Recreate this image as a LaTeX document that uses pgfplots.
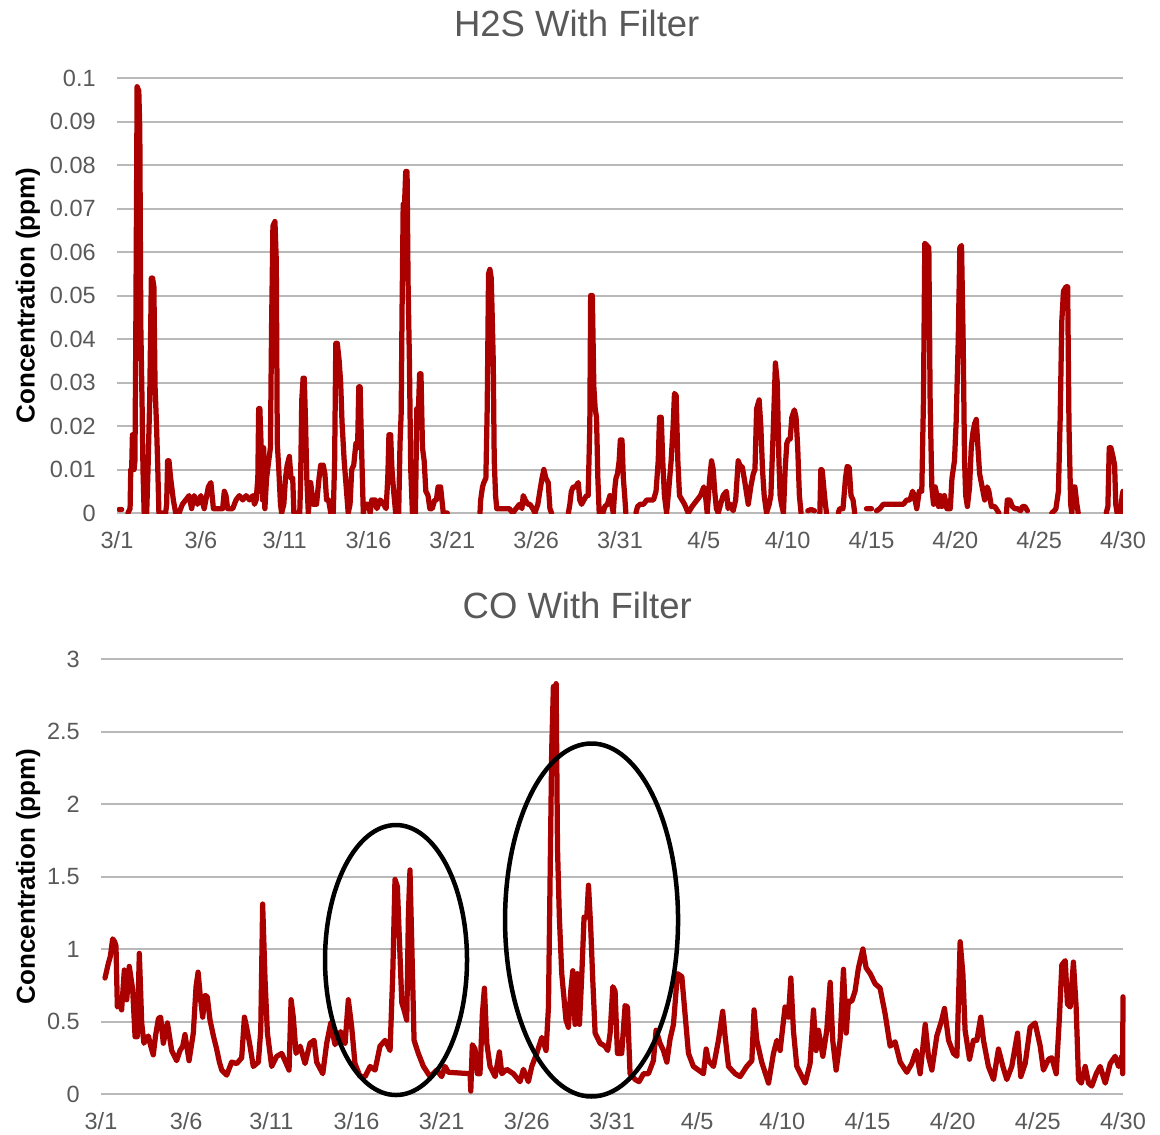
\documentclass[border=0pt]{standalone}
\usepackage{fontspec}
\setmainfont{Liberation Sans}
\usepackage{pgfplots}
\pgfplotsset{compat=1.18}
\definecolor{linered}{RGB}{170,0,0}
\definecolor{gridgray}{RGB}{185,185,185}
\definecolor{txtgray}{RGB}{89,89,89}
\pgfplotsset{
  chartstyle/.style={
    scale only axis,
    xmin=0, xmax=60,
    axis line style={draw=none},
    ymajorgrids,
    major grid style={gridgray, line width=0.8pt},
    major tick length=0pt,
    xtick={0,5,...,60},
    xticklabels={3/1,3/6,3/11,3/16,3/21,3/26,3/31,4/5,4/10,4/15,4/20,4/25,4/30},
    tick label style={font=\fontsize{9.4}{11}\selectfont, text=txtgray},
    xticklabel style={yshift=-4pt},
    yticklabel style={xshift=-5pt},
    title style={font=\fontsize{14.6}{17}\selectfont, text=txtgray, anchor=center},
    ylabel style={font=\fontsize{10.4}{12}\selectfont\bfseries, text=black, anchor=center},
    unbounded coords=jump,
  },
  dataline/.style={linered, line width=2.1pt, line join=round, line cap=round},
}
\begin{document}
\begin{tikzpicture}[x=1pt,y=1pt]
\useasboundingbox (0,0) rectangle (464,453.6);
% ---------------- H2S ----------------
\begin{axis}[chartstyle,
  at={(46.8pt,248.4pt)}, anchor=south west,
  width=402.4pt, height=174pt,
  ymin=0, ymax=0.1,
  ytick={0,0.01,0.02,0.03,0.04,0.05,0.06,0.07,0.08,0.09,0.1},
  yticklabels={0,0.01,0.02,0.03,0.04,0.05,0.06,0.07,0.08,0.09,0.1},
  title={H2S With Filter},
  title style={at={(axis description cs:0.457,1.09)}},
  ylabel={Concentration (ppm)},
  ylabel style={at={(axis description cs:-0.0885,0.5)}},
]
\addplot[dataline] coordinates {
(0.12,0.0008)(0.28,0.0008)(0.4,nan)
(0.65,0)(0.78,0.001)(0.82,0.010)(0.875,0.010)(0.92,0.018)(0.97,0.018)(1.02,0.010)(1.07,0.012)(1.12,0.040)(1.2,0.098)(1.3,0.097)(1.36,0.088)(1.42,0.043)(1.5,0.024)(1.55,0.010)(1.62,0)
(1.77,0)(1.85,0.010)(1.95,0.026)(2.05,0.054)(2.12,0.054)(2.2,0.052)(2.27,0.029)(2.35,0.021)(2.42,0.012)(2.5,0)
(2.90,0)(2.96,0.002)(3.02,0.012)(3.10,0.012)(3.20,0.008)(3.36,0.003)(3.50,0)(3.7,0)(3.9,0.002)(4.1,0.003)(4.3,0.004)(4.45,0.001)(4.6,0.004)(4.8,0.002)(5.0,0.004)(5.2,0.001)(5.45,0.006)(5.6,0.007)(5.75,0.001)(6.0,0.001)(6.3,0.001)(6.4,0.005)(6.5,0.004)(6.6,0.001)(6.9,0.001)(7.1,0.003)(7.3,0.004)(7.5,0.003)(7.7,0.004)(7.9,0.003)(8.1,0.004)(8.2,0.002)
(8.30,0.003)(8.40,0.008)(8.45,0.024)(8.52,0.024)(8.60,0.015)(8.68,0.003)(8.75,0.015)(8.82,0.001)(8.92,0.008)(9.05,0.012)(9.15,0.015)(9.22,0.043)(9.30,0.066)(9.42,0.067)(9.50,0.058)(9.56,0.016)(9.65,0.010)(9.75,0.002)(9.82,0)(9.95,0.002)(10.05,0.008)(10.15,0.011)(10.28,0.013)(10.38,0.008)(10.48,0.008)(10.55,0)(10.90,0)(10.95,0.007)(11.02,0.026)(11.10,0.031)(11.17,0.031)(11.25,0.020)(11.32,0.008)(11.41,0)(11.55,0.007)(11.70,0.002)(11.90,0.002)(12.05,0.008)(12.15,0.011)(12.30,0.011)(12.40,0.009)(12.50,0.003)(12.62,0.003)(12.75,0)(12.9,0)(12.98,0.012)(13.05,0.039)(13.14,0.039)(13.25,0.035)(13.34,0.030)(13.42,0.021)(13.55,0.012)(13.65,0.007)(13.79,0)(13.9,0.002)(14.0,0.010)(14.12,0.011)(14.25,0.016)(14.35,0.015)(14.42,0.029)(14.50,0.029)(14.58,0.016)(14.69,0)(14.8,0.002)(15.0,0.002)(15.1,0)(15.2,0.003)(15.4,0.003)(15.5,0.001)(15.7,0.003)(15.9,0.002)(16.05,0.001)(16.15,0.008)(16.22,0.018)(16.32,0.018)(16.40,0.010)(16.50,0.005)(16.62,0)(16.8,0)(16.88,0.016)(16.95,0.023)(17.0,0.046)(17.07,0.071)(17.15,0.071)(17.22,0.0785)(17.30,0.0785)(17.36,0.053)(17.44,0.035)(17.52,0.010)(17.62,0)(17.8,0)(17.88,0.024)(17.98,0.024)(18.05,0.032)(18.13,0.032)(18.22,0.015)(18.32,0.012)(18.42,0.005)(18.55,0.004)(18.66,0.001)(18.8,0.001)(18.95,0.003)(19.05,0.003)(19.15,0.006)(19.30,0.006)(19.46,0)(19.7,0)(19.8,nan)
(21.65,0)(21.69,0.003)(21.80,0.006)(21.88,0.007)(22.00,0.008)(22.08,0.024)(22.16,0.055)(22.24,0.056)(22.32,0.054)(22.38,0.045)(22.44,0.035)(22.50,0.012)(22.58,0.004)(22.65,0.001)(23.0,0.001)(23.2,0.001)(23.4,0.001)(23.6,0)(23.8,0.001)(24.0,0.002)(24.15,0.001)(24.23,0.004)(24.35,0.003)(24.5,0.002)(24.63,0.002)(24.8,0.001)(24.93,0)(25.1,0.002)(25.22,0.005)(25.35,0.008)(25.46,0.010)(25.58,0.008)(25.72,0.007)(25.82,0.001)(25.92,0)(26.3,nan)
(26.92,0)(27.01,0.002)(27.1,0.005)(27.21,0.006)(27.35,0.006)(27.51,0.007)(27.6,0.003)(27.71,0.002)(27.85,0.003)(28.0,0.004)(28.1,0.004)(28.2,0.020)(28.25,0.050)(28.35,0.050)(28.44,0.029)(28.52,0.024)(28.6,0.022)(28.68,0.008)(28.76,0)(28.85,nan)
(28.98,0)(29.1,0.0015)(29.25,0.002)(29.4,0.004)(29.5,0.002)(29.6,0)(29.7,0.006)(29.76,0.008)(29.85,0.009)(29.95,0.012)(30.02,0.0168)(30.12,0.0168)(30.2,0.008)(30.28,0.004)(30.35,0)(30.6,nan)
(30.95,0)(31.05,0.0015)(31.2,0.002)(31.4,0.002)(31.6,0.003)(31.8,0.003)(32.0,0.003)(32.15,0.005)(32.28,0.012)(32.36,0.022)(32.46,0.022)(32.55,0.012)(32.65,0.004)(32.78,0)(32.9,0.005)(33.05,0.012)(33.17,0.020)(33.25,0.0275)(33.35,0.027)(33.45,0.012)(33.55,0.004)(33.7,0.003)(33.85,0.002)(34.07,0)(34.3,0.0015)(34.6,0.003)(34.8,0.004)(35.0,0.006)(35.1,0.004)(35.2,0)(35.35,0.008)(35.46,0.012)(35.56,0.010)(35.65,0.005)(35.75,0.001)(35.86,0)(36.0,0.002)(36.15,0.004)(36.35,0.005)(36.45,0.001)(36.6,0.002)(36.75,0.0005)(36.9,0.003)(37.05,0.012)(37.15,0.011)(37.3,0.0105)(37.45,0.007)(37.65,0.002)(37.8,0.006)(37.95,0.009)(38.05,0.010)(38.15,0.024)(38.3,0.026)(38.4,0.020)(38.5,0.010)(38.6,0.004)(38.74,0)(38.9,0.002)(39.0,0.004)(39.15,0.020)(39.27,0.0345)(39.38,0.030)(39.48,0.012)(39.55,0.004)(39.63,0.002)(39.75,0)(39.85,0.010)(39.95,0.016)(40.05,0.017)(40.15,0.017)(40.25,0.022)(40.40,0.0237)(40.5,0.022)(40.6,0.015)(40.7,0.004)(40.8,0)(40.95,nan)
(41.2,0.0005)(41.4,0.0008)(41.6,0.0005)(41.75,nan)
(41.92,0)(41.98,0.010)(42.06,0.0099)(42.15,0.006)(42.25,0.002)(42.32,0)(42.6,nan)
(43.02,0)(43.1,0.001)(43.3,0.001)(43.45,0.008)(43.55,0.0107)(43.67,0.0105)(43.78,0.004)(43.9,0.003)(44.0,0)(44.3,nan)
(44.7,0.001)(45.0,0.001)(45.15,nan)
(45.3,0.0005)(45.5,0.001)(45.7,0.002)(45.9,0.002)(46.1,0.002)(46.3,0.002)(46.5,0.002)(46.7,0.002)(46.9,0.002)(47.1,0.003)(47.3,0.003)(47.45,0.005)(47.55,0.004)(47.7,0.001)(47.85,0.005)(48.0,0.005)(48.1,0.026)(48.18,0.062)(48.3,0.0615)(48.42,0.061)(48.5,0.025)(48.6,0.006)(48.7,0.002)(48.8,0.006)(48.9,0.004)(49.0,0.0015)(49.1,0.004)(49.2,0.0015)(49.35,0.004)(49.5,0.001)(49.7,0.001)(49.8,0.008)(49.95,0.012)(50.05,0.021)(50.17,0.039)(50.27,0.061)(50.37,0.0615)(50.47,0.039)(50.55,0.012)(50.62,0.004)(50.72,0.0015)(50.85,0.006)(50.95,0.015)(51.05,0.0185)(51.15,0.0205)(51.25,0.0215)(51.35,0.015)(51.45,0.009)(51.6,0.006)(51.75,0.003)(51.9,0.006)(52.0,0.005)(52.15,0.0015)(52.35,0.0015)(52.6,0)(52.8,nan)
(53.05,0)(53.1,0.003)(53.25,0.003)(53.4,0.0015)(53.55,0.001)(53.7,0.001)(53.9,0.0005)(54.0,0.0015)(54.15,0.0015)(54.3,0.0005)(54.5,nan)
(55.75,0)(55.9,0.0005)(56.0,0.001)(56.15,0.005)(56.25,0.021)(56.35,0.044)(56.45,0.051)(56.6,0.052)(56.7,0.052)(56.78,0.020)(56.88,0.002)(56.95,0)(57.03,0.006)(57.13,0.006)(57.25,0.002)(57.33,0)(57.6,nan)
(59.0,0)(59.1,0.0015)(59.18,0.015)(59.28,0.015)(59.4,0.013)(59.5,0.011)(59.57,0.002)(59.65,0)(59.85,0)(59.95,0.004)(60.0,0.005)
};
\end{axis}
% ---------------- CO ----------------
\begin{axis}[chartstyle,
  at={(40.4pt,16pt)}, anchor=south west,
  width=408.8pt, height=174pt,
  ymin=0, ymax=3,
  ytick={0,0.5,1,1.5,2,2.5,3},
  yticklabels={0,0.5,1,1.5,2,2.5,3},
  title={CO With Filter},
  title style={at={(axis description cs:0.466,1.088)}},
  ylabel={Concentration (ppm)},
  ylabel style={at={(axis description cs:-0.0714,0.5)}},
  clip=false,
]
\addplot[dataline] coordinates {
(0.235,0.80)(0.43,0.90)(0.55,0.95)(0.685,1.07)(0.8,1.05)(0.88,1.02)(0.96,0.60)(1.1,0.62)(1.21,0.58)(1.37,0.855)(1.51,0.65)(1.66,0.88)(1.86,0.72)(2.0,0.395)(2.13,0.395)(2.25,0.97)(2.39,0.49)(2.52,0.35)(2.65,0.38)(2.78,0.40)(2.92,0.33)(3.07,0.27)(3.2,0.40)(3.37,0.52)(3.5,0.53)(3.66,0.35)(3.9,0.49)(4.15,0.30)(4.44,0.23)(4.64,0.30)(4.8,0.33)(4.93,0.41)(5.17,0.23)(5.42,0.42)(5.58,0.74)(5.7,0.84)(5.85,0.65)(5.97,0.53)(6.11,0.68)(6.24,0.67)(6.4,0.51)(6.6,0.40)(6.79,0.31)(6.95,0.22)(7.09,0.165)(7.38,0.13)(7.67,0.22)(7.97,0.21)(8.26,0.25)(8.42,0.53)(8.55,0.46)(8.75,0.33)(8.94,0.19)(9.24,0.22)(9.38,0.44)(9.49,1.31)(9.63,0.79)(9.77,0.42)(10.02,0.19)(10.32,0.26)(10.61,0.28)(10.8,0.23)(11.04,0.165)(11.16,0.65)(11.29,0.53)(11.45,0.28)(11.69,0.33)(11.98,0.21)(12.27,0.35)(12.51,0.37)(12.66,0.22)(13.02,0.14)(13.25,0.35)(13.49,0.49)(13.74,0.34)(14.07,0.43)(14.33,0.35)(14.52,0.65)(14.72,0.46)(14.91,0.21)(15.21,0.12)(15.5,0.12)(15.8,0.19)(16.09,0.165)(16.38,0.33)(16.68,0.37)(16.97,0.30)(17.13,0.83)(17.26,1.48)(17.4,1.43)(17.52,1.06)(17.66,0.63)(17.79,0.58)(17.95,0.51)(18.05,1.25)(18.14,1.545)(18.24,1.06)(18.38,0.37)(18.63,0.28)(18.93,0.19)(19.32,0.12)(19.71,0.165)(20.0,0.12)(20.2,0.19)(20.39,0.15)(21.67,0.14)(21.71,0.02)(21.8,0.34)(21.96,0.31)(22.1,0.14)(22.25,0.14)(22.39,0.55)(22.51,0.73)(22.65,0.35)(22.84,0.19)(23.14,0.12)(23.39,0.29)(23.53,0.14)(23.82,0.17)(24.21,0.14)(24.6,0.085)(24.8,0.17)(25.09,0.085)(25.29,0.19)(25.58,0.28)(25.88,0.39)(26.13,0.30)(26.27,0.60)(26.37,1.52)(26.46,2.37)(26.56,2.81)(26.66,2.39)(26.72,2.83)(26.8,1.70)(26.91,1.22)(27.05,0.83)(27.3,0.51)(27.44,0.46)(27.58,0.71)(27.7,0.85)(27.83,0.48)(27.97,0.83)(28.09,0.48)(28.23,0.83)(28.36,1.22)(28.52,1.22)(28.62,1.44)(28.75,1.15)(28.87,0.79)(29.01,0.42)(29.3,0.35)(29.59,0.33)(29.75,0.30)(29.89,0.42)(30.05,0.74)(30.18,0.71)(30.32,0.28)(30.57,0.28)(30.77,0.61)(30.91,0.60)(31.06,0.14)(31.36,0.10)(31.59,0.085)(31.85,0.14)(32.14,0.14)(32.43,0.23)(32.59,0.44)(32.82,0.35)(33.02,0.30)(33.22,0.22)(33.41,0.38)(33.61,0.48)(33.84,0.83)(34.1,0.81)(34.29,0.55)(34.49,0.28)(34.78,0.19)(35.08,0.165)(35.37,0.14)(35.53,0.31)(35.66,0.23)(35.96,0.19)(36.25,0.37)(36.5,0.57)(36.64,0.40)(36.84,0.19)(37.23,0.14)(37.52,0.12)(37.91,0.19)(38.21,0.23)(38.34,0.58)(38.5,0.37)(38.79,0.22)(39.19,0.075)(39.48,0.28)(39.68,0.37)(39.87,0.30)(40.16,0.60)(40.36,0.53)(40.5,0.80)(40.65,0.44)(40.85,0.19)(41.34,0.075)(41.63,0.21)(41.83,0.58)(41.98,0.30)(42.12,0.44)(42.38,0.26)(42.61,0.44)(42.81,0.77)(42.96,0.37)(43.16,0.165)(43.39,0.37)(43.59,0.86)(43.75,0.42)(43.88,0.64)(44.08,0.64)(44.27,0.71)(44.47,0.87)(44.73,1.00)(44.92,0.87)(45.16,0.83)(45.45,0.76)(45.74,0.73)(46.04,0.55)(46.33,0.33)(46.62,0.36)(46.92,0.22)(47.31,0.15)(47.6,0.21)(47.86,0.30)(48.09,0.14)(48.39,0.48)(48.58,0.26)(48.78,0.165)(49.07,0.40)(49.36,0.51)(49.52,0.59)(49.76,0.37)(50.05,0.28)(50.25,0.26)(50.44,1.05)(50.6,0.83)(50.73,0.44)(50.99,0.24)(51.22,0.37)(51.42,0.37)(51.65,0.53)(51.81,0.37)(52.1,0.19)(52.4,0.10)(52.69,0.31)(52.95,0.19)(53.18,0.10)(53.47,0.19)(53.81,0.42)(54.0,0.12)(54.26,0.21)(54.55,0.46)(54.84,0.49)(55.14,0.33)(55.33,0.165)(55.63,0.24)(55.82,0.25)(56.08,0.14)(56.27,0.53)(56.41,0.89)(56.61,0.92)(56.74,0.62)(56.9,0.60)(57.09,0.91)(57.25,0.60)(57.39,0.10)(57.55,0.075)(57.78,0.19)(57.98,0.075)(58.17,0.055)(58.43,0.14)(58.66,0.19)(58.96,0.075)(59.25,0.21)(59.54,0.26)(59.74,0.19)(59.93,0.26)(59.98,0.14)(60.0,0.67)
};
\draw[black, line width=1.8pt] (axis cs:17.32,0.924) ellipse [x radius=28.4pt, y radius=54pt];
\draw[black, line width=1.8pt] (axis cs:28.8,1.2) ellipse [x radius=34.6pt, y radius=70.6pt];
\end{axis}
\end{tikzpicture}
\end{document}
